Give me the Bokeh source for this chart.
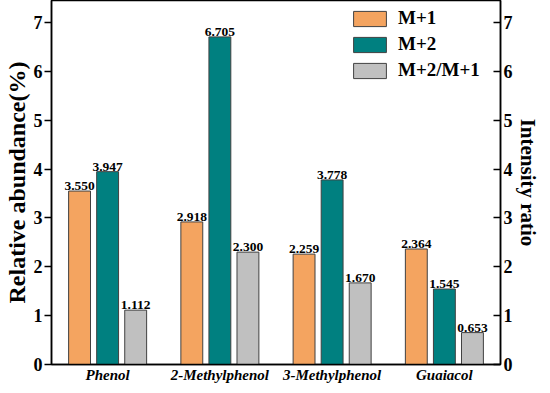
from bokeh.plotting import figure
from bokeh.models import ColumnDataSource, LinearAxis, Range1d, FactorRange, LabelSet, Legend, LegendItem, FixedTicker
from bokeh.transform import dodge
from bokeh.embed import file_html
from bokeh.resources import INLINE

categories = ["Phenol", "2-Methylphenol", "3-Methylphenol", "Guaiacol"]
m1 = [3.550, 2.918, 2.259, 2.364]
m2 = [3.947, 6.705, 3.778, 1.545]
ratio = [1.112, 2.300, 1.670, 0.653]
m1_lbl = ["3.550", "2.918", "2.259", "2.364"]
m2_lbl = ["3.947", "6.705", "3.778", "1.545"]
ratio_lbl = ["1.112", "2.300", "1.670", "0.653"]
y_ticks = [0, 1, 2, 3, 4, 5, 6, 7]

src = ColumnDataSource(dict(cat=categories, m1=m1, m2=m2, ratio=ratio,
                            m1l=m1_lbl, m2l=m2_lbl, rl=ratio_lbl))

FONT = "Liberation Serif"

p = figure(x_range=FactorRange(*categories, range_padding=0), y_range=Range1d(0, 7.45),
           width=542, height=385, output_backend="svg", toolbar_location=None,
           min_border_left=0, min_border_right=0, min_border_top=0, min_border_bottom=0)
p.extra_y_ranges = {"r": Range1d(0, 7.45)}

p.xgrid.visible = False
p.ygrid.visible = False
p.outline_line_color = "black"
p.outline_line_width = 1.5
p.outline_line_alpha = 1

W = 0.195
b1 = p.vbar(x=dodge("cat", -0.25, range=p.x_range), top="m1", width=W, source=src,
            fill_color="#F4A460", line_color="#404040", line_width=1)
b2 = p.vbar(x=dodge("cat", 0.0, range=p.x_range), top="m2", width=W, source=src,
            fill_color="#008080", line_color="#404040", line_width=1)
b3 = p.vbar(x=dodge("cat", 0.25, range=p.x_range), top="ratio", width=W, source=src,
            fill_color="#C0C0C0", line_color="#404040", line_width=1, y_range_name="r")

for off, col, yr in [(-0.25, "m1l", None), (0.0, "m2l", None), (0.25, "rl", "r")]:
    ycol = {"m1l": "m1", "m2l": "m2", "rl": "ratio"}[col]
    kw = dict(x=dodge("cat", off, range=p.x_range), y=ycol, text=col, source=src,
              text_align="center", text_baseline="bottom", y_offset=1,
              text_font=FONT, text_font_style="bold", text_font_size="13.5px", text_color="black")
    if yr:
        kw["y_range_name"] = yr
    p.add_layout(LabelSet(**kw))

def style_y(ax):
    ax.ticker = FixedTicker(ticks=y_ticks)
    ax.axis_label_text_font = FONT
    ax.axis_label_text_font_style = "bold"
    ax.axis_label_text_color = "black"
    ax.major_label_text_font = FONT
    ax.major_label_text_font_style = "bold"
    ax.major_label_text_font_size = "18px"
    ax.major_label_text_color = "black"
    ax.minor_tick_out = 0
    ax.minor_tick_in = 0
    ax.axis_line_width = 1.5
    ax.axis_line_color = "black"
    ax.major_tick_line_width = 1.5
    ax.major_tick_line_color = "black"

# left axis
ya = p.yaxis[0]
style_y(ya)
ya.axis_label = "Relative abundance(%)"
ya.axis_label_text_font_size = "24px"
ya.axis_label_standoff = 1
ya.major_label_standoff = 2
ya.major_tick_out = 7
ya.major_tick_in = 0

# right axis
ra = LinearAxis(y_range_name="r", axis_label="Intensity ratio")
style_y(ra)
ra.axis_label_text_font_size = "21px"
ra.axis_label_standoff = 0
ra.major_label_standoff = 3
ra.major_tick_out = 0
ra.major_tick_in = 7
p.add_layout(ra, "right")

# bottom axis
xa = p.xaxis[0]
xa.major_label_text_font = FONT
xa.major_label_text_font_style = "bold italic"
xa.major_label_text_font_size = "15px"
xa.major_label_text_color = "black"
xa.major_label_standoff = 2
xa.major_tick_out = 0
xa.major_tick_in = 0
xa.axis_line_width = 1.5
xa.axis_line_color = "black"

legend = Legend(items=[LegendItem(label="M+1", renderers=[b1]),
                       LegendItem(label="M+2", renderers=[b2]),
                       LegendItem(label="M+2/M+1", renderers=[b3])],
                location=(296, 281), glyph_width=41, glyph_height=19, spacing=4,
                label_text_font=FONT, label_text_font_style="bold", label_text_font_size="19px",
                label_text_color="black",
                label_standoff=8, border_line_alpha=0, background_fill_alpha=0,
                margin=0, padding=2, label_height=19)
p.add_layout(legend)

open("out.html", "w").write(file_html(p, INLINE))
